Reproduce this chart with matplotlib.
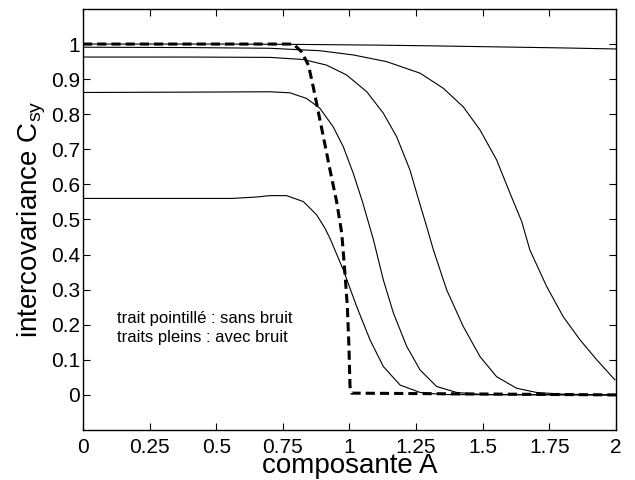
import matplotlib
matplotlib.use('Agg')
import matplotlib.pyplot as plt

plt.rcParams['font.family'] = ['Liberation Sans', 'DejaVu Sans']

# courbe sans bruit (pointillés)
x_dash = [0, 0.79, 0.82, 0.846, 0.864, 0.883, 0.902, 0.927, 0.952, 0.971, 0.983,
          0.992, 0.998, 1.002, 1.008, 2.0]
y_dash = [1.0, 1.0, 0.978, 0.940, 0.878, 0.807, 0.736, 0.641, 0.55, 0.461, 0.347,
          0.252, 0.138, 0.024, 0.005, 0.0]

# courbes avec bruit (traits pleins)
x_a = [0, 0.5, 0.8, 1.1, 1.3, 1.55, 1.8, 2.0]
y_a = [1.0, 1.0, 0.999, 0.997, 0.995, 0.992, 0.989, 0.986]

x_b = [0, 0.4, 0.702, 0.889, 1.014, 1.139, 1.265, 1.352, 1.427, 1.49, 1.552, 1.605,
       1.646, 1.677, 1.74, 1.802, 1.865, 1.928, 1.996]
y_b = [0.991, 0.990, 0.988, 0.981, 0.969, 0.950, 0.917, 0.874, 0.821, 0.755, 0.670,
       0.570, 0.495, 0.413, 0.309, 0.223, 0.157, 0.10, 0.043]

x_c = [0, 0.4, 0.702, 0.827, 0.914, 0.989, 1.065, 1.127, 1.177, 1.227, 1.258, 1.29,
       1.315, 1.365, 1.427, 1.49, 1.552, 1.627, 1.702, 1.8, 2.0]
y_c = [0.963, 0.963, 0.962, 0.956, 0.940, 0.912, 0.864, 0.803, 0.736, 0.641, 0.56,
       0.479, 0.413, 0.299, 0.195, 0.109, 0.052, 0.019, 0.007, 0.002, 0.0]

x_d = [0, 0.4, 0.702, 0.777, 0.839, 0.889, 0.939, 0.977, 1.014, 1.049, 1.09, 1.127,
       1.165, 1.215, 1.265, 1.327, 1.402, 1.5, 2.0]
y_d = [0.862, 0.863, 0.864, 0.861, 0.845, 0.817, 0.764, 0.707, 0.632, 0.55, 0.442,
       0.328, 0.233, 0.138, 0.071, 0.024, 0.007, 0.001, 0.0]

x_e = [0, 0.56, 0.65, 0.702, 0.764, 0.827, 0.877, 0.908, 0.927, 0.977, 1.027, 1.077,
       1.127, 1.19, 1.265, 1.35, 2.0]
y_e = [0.56, 0.56, 0.564, 0.568, 0.568, 0.551, 0.513, 0.475, 0.446, 0.356, 0.252,
       0.157, 0.081, 0.028, 0.007, 0.001, 0.0]

xticks = [0, 0.25, 0.5, 0.75, 1, 1.25, 1.5, 1.75, 2]
xticklabels = ['0', '0.25', '0.5', '0.75', '1', '1.25', '1.5', '1.75', '2']
yticks = [0, 0.1, 0.2, 0.3, 0.4, 0.5, 0.6, 0.7, 0.8, 0.9, 1]
yticklabels = ['0', '0.1', '0.2', '0.3', '0.4', '0.5', '0.6', '0.7', '0.8', '0.9', '1']

fig = plt.figure(figsize=(6.35, 4.8), dpi=100)
ax = fig.add_axes([0.1307, 0.1042, 0.8393, 0.8771])

for xs, ys in [(x_a, y_a), (x_b, y_b), (x_c, y_c), (x_d, y_d), (x_e, y_e)]:
    ax.plot(xs, ys, color='black', lw=0.8)
ax.plot(x_dash, y_dash, color='black', lw=2.2, dashes=(3, 1.65))

ax.set_xlim(0, 2)
ax.set_ylim(-0.1, 1.1)
ax.set_xticks(xticks)
ax.set_xticklabels(xticklabels)
ax.set_yticks(yticks)
ax.set_yticklabels(yticklabels)
ax.tick_params(direction='in', length=5, width=0.8, labelsize=15,
               top=True, right=True)
ax.tick_params(axis='y', pad=2)
ax.tick_params(axis='x', pad=6)
for s in ax.spines.values():
    s.set_linewidth(1.0)

ax.set_xlabel('composante A', fontsize=20, labelpad=-3)
ax.set_ylabel('intercovariance C$_{\\mathregular{sy}}$', fontsize=20, labelpad=2)

ax.text(0.128, 0.219, 'trait pointillé : sans bruit', fontsize=12, va='center')
ax.text(0.128, 0.165, 'traits pleins : avec bruit', fontsize=12, va='center')

fig.savefig('out.png', dpi=100)
